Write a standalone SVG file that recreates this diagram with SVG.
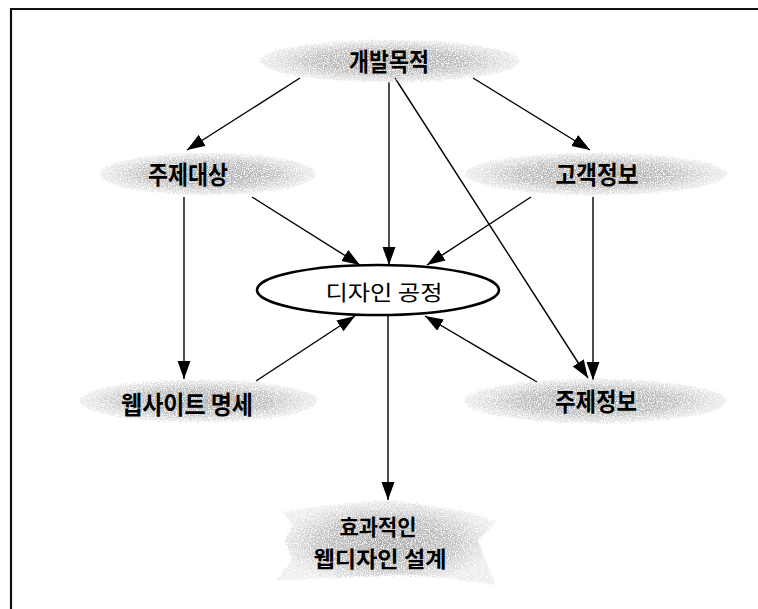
<svg xmlns="http://www.w3.org/2000/svg" width="758" height="609" viewBox="0 0 758 609">
  <style>
    .frame { fill: none; stroke: #111; stroke-width: 2.2; }
    .edge { fill: none; stroke: #000; stroke-width: 1.4; marker-end: url(#arrow); }
    .cloud { fill: url(#cloudFill); filter: url(#grain); }
    .lbl { font-family: "Noto Sans CJK KR", "Noto Sans", sans-serif; font-weight: bold; font-size: 25px; fill: #000; text-anchor: middle; dominant-baseline: central; }
    .lbl2 { font-size: 22px; }
    .core { font-family: "Noto Sans CJK KR", "Noto Sans", sans-serif; font-size: 21px; fill: #000; text-anchor: middle; dominant-baseline: central; }
  </style>
  <defs>
    <marker id="arrow" markerUnits="userSpaceOnUse" markerWidth="20" markerHeight="14" refX="18" refY="6.5" orient="auto">
      <path d="M0,0 L18,6.5 L0,13 Z" fill="#000"/>
    </marker>
    <radialGradient id="cloudFill" cx="50%" cy="50%" r="50%">
      <stop offset="0" stop-color="#a8a8a8"/>
      <stop offset="0.6" stop-color="#bebebe"/>
      <stop offset="1" stop-color="#dadada" stop-opacity="0.55"/>
    </radialGradient>
    <!-- speckled halftone look with ragged edges -->
    <filter id="grain" x="-10%" y="-40%" width="120%" height="180%">
      <feTurbulence type="fractalNoise" baseFrequency="0.85" numOctaves="2" seed="4" result="noise"/>
      <feDisplacementMap in="SourceGraphic" in2="noise" scale="7" xChannelSelector="R" yChannelSelector="G" result="rough"/>
      <feColorMatrix in="noise" type="matrix" values="0 0 0 0 0  0 0 0 0 0  0 0 0 0 0  3.2 0 0 0 -0.85" result="dots"/>
      <feComposite in="rough" in2="dots" operator="in"/>
    </filter>
  </defs>

  <rect width="758" height="609" fill="#fff"/>

  <!-- open frame: top and left rules -->
  <path class="frame" d="M11,609 L11,9 L758,9"/>

  <g id="edges">
    <line class="edge" x1="300" y1="78" x2="187" y2="150"/>
    <line class="edge" x1="389" y1="82" x2="389" y2="265"/>
    <line class="edge" x1="395" y1="78" x2="588" y2="378"/>
    <line class="edge" x1="473" y1="78" x2="590" y2="150"/>
    <line class="edge" x1="252" y1="197" x2="360" y2="265"/>
    <line class="edge" x1="184" y1="197" x2="184" y2="379"/>
    <line class="edge" x1="531" y1="197" x2="427" y2="265"/>
    <line class="edge" x1="593" y1="197" x2="593" y2="380"/>
    <line class="edge" x1="256" y1="381" x2="355" y2="316"/>
    <line class="edge" x1="537" y1="382" x2="425" y2="316"/>
    <line class="edge" x1="388" y1="315" x2="388" y2="500"/>
  </g>

  <g id="goal">
    <ellipse class="cloud" cx="390" cy="61" rx="130" ry="21"/>
    <text class="lbl" x="389" y="60" textLength="80" lengthAdjust="spacingAndGlyphs">개발목적</text>
  </g>

  <g id="subject">
    <ellipse class="cloud" cx="208" cy="174" rx="108" ry="21"/>
    <text class="lbl" x="188" y="173" textLength="80" lengthAdjust="spacingAndGlyphs">주제대상</text>
  </g>

  <g id="customer">
    <ellipse class="cloud" cx="596" cy="174" rx="131" ry="21"/>
    <text class="lbl" x="597" y="173" textLength="83" lengthAdjust="spacingAndGlyphs">고객정보</text>
  </g>

  <g id="process">
    <ellipse cx="378" cy="290" rx="121" ry="25" fill="#fff" stroke="#000" stroke-width="2.6"/>
    <text class="core" x="384" y="291" textLength="117" lengthAdjust="spacingAndGlyphs">디자인 공정</text>
  </g>

  <g id="site-spec">
    <ellipse class="cloud" cx="199" cy="401" rx="119" ry="21"/>
    <text class="lbl" x="187" y="403" textLength="132" lengthAdjust="spacingAndGlyphs">웹사이트 명세</text>
  </g>

  <g id="topic-info">
    <ellipse class="cloud" cx="596" cy="401" rx="131" ry="22"/>
    <text class="lbl" x="596" y="400" textLength="82" lengthAdjust="spacingAndGlyphs">주제정보</text>
  </g>

  <g id="result">
    <path class="cloud" d="M283,512 L330,505 L387,500 L430,506 L470,512 L497,522 L478,540 L485,558 L496,585 L450,578 L400,575 L340,578 L277,580 L292,560 L285,540 L293,525 Z"/>
    <text class="lbl lbl2" x="378" y="525" textLength="77" lengthAdjust="spacingAndGlyphs">효과적인</text>
    <text class="lbl lbl2" x="380" y="557" textLength="133" lengthAdjust="spacingAndGlyphs">웹디자인 설계</text>
  </g>
</svg>
